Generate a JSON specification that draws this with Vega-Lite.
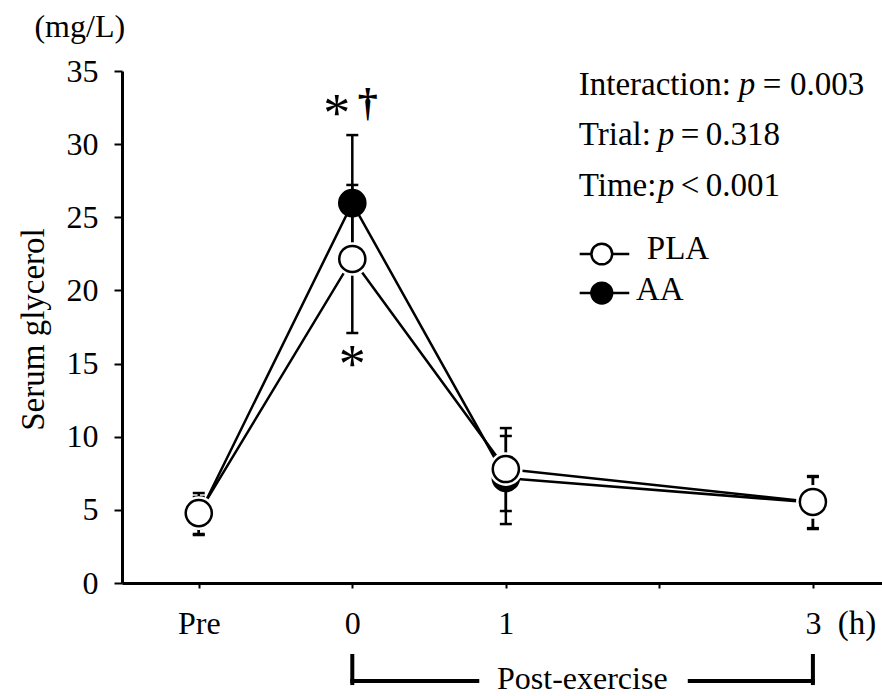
{
  "$schema": "https://vega.github.io/schema/vega-lite/v6.json",
  "width": 760,
  "height": 512,
  "autosize": {"type": "none"},
  "padding": {"left": 122, "top": 71, "right": 0, "bottom": 113},
  "background": "white",
  "config": {
    "font": "Liberation Serif",
    "view": {"stroke": null},
    "text": {"font": "Liberation Serif", "color": "black"}
  },
  "datasets": {
    "series": [
      {"trial": "PLA", "x": -1, "y": 4.78, "lo": 3.28, "hi": 6.15},
      {"trial": "PLA", "x": 0, "y": 22.15, "lo": 17.09, "hi": 27.21},
      {"trial": "PLA", "x": 1, "y": 7.79, "lo": 4.92, "hi": 10.59},
      {"trial": "PLA", "x": 3, "y": 5.54, "lo": 3.69, "hi": 7.31},
      {"trial": "AA", "x": -1, "y": 4.62, "lo": 3.35, "hi": 5.88},
      {"trial": "AA", "x": 0, "y": 25.97, "lo": 21.32, "hi": 30.62},
      {"trial": "AA", "x": 1, "y": 7.18, "lo": 4.03, "hi": 10.05},
      {"trial": "AA", "x": 3, "y": 5.5, "lo": 3.75, "hi": 7.25}
    ],
    "notes": [
      {"group": "left", "x": 1.475, "y": 33.36, "label": "Interaction:"},
      {"group": "italic", "x": 2.517, "y": 33.36, "label": "p"},
      {"group": "left", "x": 2.674, "y": 33.36, "label": "="},
      {"group": "left", "x": 2.85, "y": 33.36, "label": "0.003"},
      {"group": "left", "x": 1.475, "y": 29.94, "label": "Trial:"},
      {"group": "italic", "x": 1.99, "y": 29.94, "label": "p"},
      {"group": "left", "x": 2.14, "y": 29.94, "label": "="},
      {"group": "left", "x": 2.302, "y": 29.94, "label": "0.318"},
      {"group": "left", "x": 1.475, "y": 26.45, "label": "Time:"},
      {"group": "italic", "x": 1.99, "y": 26.45, "label": "p"},
      {"group": "left", "x": 2.14, "y": 26.45, "label": "<"},
      {"group": "left", "x": 2.302, "y": 26.45, "label": "0.001"},
      {"group": "left", "x": 1.918, "y": 22.15, "label": "PLA"},
      {"group": "left", "x": 1.847, "y": 19.34, "label": "AA"},
      {"group": "left", "x": 3.162, "y": -3.49, "label": "(h)"},
      {"group": "center", "x": -1.775, "y": 37.32, "label": "(mg/L)"},
      {"group": "center", "x": 1.498, "y": -7.25, "label": "Post-exercise"},
      {"group": "star", "x": -0.102, "y": 30.93, "label": "*"},
      {"group": "star", "x": 0, "y": 13.77, "label": "*"},
      {"group": "dagger", "x": 0.1, "y": 31.9, "label": "†"}
    ],
    "legend": [
      {"trial": "PLA", "x": 1.481, "x2": 1.804, "xc": 1.625, "y": 22.49},
      {"trial": "AA", "x": 1.481, "x2": 1.804, "xc": 1.625, "y": 19.82}
    ],
    "bracket": [
      {"x": 0, "x2": 0, "y": -4.99, "y2": -6.84},
      {"x": 3, "x2": 3, "y": -4.99, "y2": -6.84},
      {"x": 0, "x2": 0.814, "y": -6.7, "y2": -6.7},
      {"x": 2.198, "x2": 3, "y": -6.7, "y2": -6.7}
    ]
  },
  "layer": [
    {
      "data": {"name": "series"},
      "transform": [{"filter": "datum.trial === 'AA'"}],
      "mark": {"type": "line", "color": "black", "strokeWidth": 2.5},
      "encoding": {
        "x": {
          "field": "x",
          "type": "quantitative",
          "scale": {"domain": [-1.5, 3.45], "nice": false, "zero": false},
          "axis": {
            "values": [-1, 0, 1, 2, 3],
            "format": "d",
            "labelExpr": "datum.value === -1 ? 'Pre' : (datum.value === 2 ? '' : datum.label)",
            "title": null,
            "grid": false,
            "domainColor": "black",
            "domainWidth": 3,
            "tickColor": "black",
            "tickWidth": 2,
            "tickSize": 5,
            "labelFontSize": 32,
            "labelColor": "black",
            "labelPadding": 45,
            "labelBaseline": "alphabetic",
            "labelFlush": false,
            "labelOverlap": false
          }
        },
        "y": {
          "field": "y",
          "type": "quantitative",
          "scale": {"domain": [0, 35], "nice": false, "zero": false},
          "axis": {
            "values": [0, 5, 10, 15, 20, 25, 30, 35],
            "format": "d",
            "title": "Serum glycerol",
            "titleFontSize": 33,
            "titleFontWeight": "normal",
            "titleColor": "black",
            "titleX": -79,
            "titleY": 258,
            "titleAngle": 270,
            "titleAlign": "center",
            "titleBaseline": "alphabetic",
            "grid": false,
            "domainColor": "black",
            "domainWidth": 3,
            "tickColor": "black",
            "tickWidth": 2,
            "tickSize": 8,
            "labelFontSize": 32,
            "labelColor": "black",
            "labelPadding": 16,
            "labelFlush": false,
            "labelOverlap": false
          }
        }
      }
    },
    {
      "data": {"name": "series"},
      "transform": [{"filter": "datum.trial === 'AA'"}],
      "mark": {"type": "rule", "color": "black", "strokeWidth": 2.5},
      "encoding": {
        "x": {"field": "x", "type": "quantitative"},
        "y": {"field": "lo", "type": "quantitative"},
        "y2": {"field": "hi"}
      }
    },
    {
      "data": {"name": "series"},
      "transform": [{"filter": "datum.trial === 'AA'"}],
      "mark": {"type": "tick", "orient": "horizontal", "color": "black", "size": 12, "thickness": 2.5, "opacity": 1},
      "encoding": {
        "x": {"field": "x", "type": "quantitative"},
        "y": {"field": "lo", "type": "quantitative"}
      }
    },
    {
      "data": {"name": "series"},
      "transform": [{"filter": "datum.trial === 'AA'"}],
      "mark": {"type": "tick", "orient": "horizontal", "color": "black", "size": 12, "thickness": 2.5, "opacity": 1},
      "encoding": {
        "x": {"field": "x", "type": "quantitative"},
        "y": {"field": "hi", "type": "quantitative"}
      }
    },
    {
      "data": {"name": "series"},
      "transform": [{"filter": "datum.trial === 'AA'"}],
      "mark": {"type": "point", "shape": "circle", "filled": true, "fill": "black", "stroke": "black", "strokeWidth": 2.5, "size": 683, "opacity": 1},
      "encoding": {
        "x": {"field": "x", "type": "quantitative"},
        "y": {"field": "y", "type": "quantitative"}
      }
    },
    {
      "data": {"name": "series"},
      "transform": [{"filter": "datum.trial === 'PLA'"}],
      "mark": {"type": "line", "color": "black", "strokeWidth": 2.5},
      "encoding": {
        "x": {"field": "x", "type": "quantitative"},
        "y": {"field": "y", "type": "quantitative"}
      }
    },
    {
      "data": {"name": "series"},
      "transform": [{"filter": "datum.trial === 'PLA'"}],
      "mark": {"type": "rule", "color": "black", "strokeWidth": 2.5},
      "encoding": {
        "x": {"field": "x", "type": "quantitative"},
        "y": {"field": "lo", "type": "quantitative"},
        "y2": {"field": "hi"}
      }
    },
    {
      "data": {"name": "series"},
      "transform": [{"filter": "datum.trial === 'PLA'"}],
      "mark": {"type": "tick", "orient": "horizontal", "color": "black", "size": 12, "thickness": 2.5, "opacity": 1},
      "encoding": {
        "x": {"field": "x", "type": "quantitative"},
        "y": {"field": "lo", "type": "quantitative"}
      }
    },
    {
      "data": {"name": "series"},
      "transform": [{"filter": "datum.trial === 'PLA'"}],
      "mark": {"type": "tick", "orient": "horizontal", "color": "black", "size": 12, "thickness": 2.5, "opacity": 1},
      "encoding": {
        "x": {"field": "x", "type": "quantitative"},
        "y": {"field": "hi", "type": "quantitative"}
      }
    },
    {
      "data": {"name": "series"},
      "transform": [{"filter": "datum.trial === 'PLA'"}],
      "mark": {"type": "point", "shape": "circle", "filled": true, "fill": "white", "size": 1134, "opacity": 1},
      "encoding": {
        "x": {"field": "x", "type": "quantitative"},
        "y": {"field": "y", "type": "quantitative"}
      }
    },
    {
      "data": {"name": "series"},
      "transform": [{"filter": "datum.trial === 'PLA'"}],
      "mark": {"type": "point", "shape": "circle", "filled": true, "fill": "white", "stroke": "black", "strokeWidth": 2.5, "size": 683, "opacity": 1},
      "encoding": {
        "x": {"field": "x", "type": "quantitative"},
        "y": {"field": "y", "type": "quantitative"}
      }
    },
    {
      "data": {"name": "legend"},
      "mark": {"type": "rule", "color": "black", "strokeWidth": 2.5},
      "encoding": {
        "x": {"field": "x", "type": "quantitative"},
        "x2": {"field": "x2"},
        "y": {"field": "y", "type": "quantitative"}
      }
    },
    {
      "data": {"name": "legend"},
      "transform": [{"filter": "datum.trial === 'PLA'"}],
      "mark": {"type": "point", "shape": "circle", "filled": true, "fill": "white", "stroke": "black", "strokeWidth": 2.5, "size": 430, "opacity": 1},
      "encoding": {
        "x": {"field": "xc", "type": "quantitative"},
        "y": {"field": "y", "type": "quantitative"}
      }
    },
    {
      "data": {"name": "legend"},
      "transform": [{"filter": "datum.trial === 'AA'"}],
      "mark": {"type": "point", "shape": "circle", "filled": true, "fill": "black", "stroke": "black", "strokeWidth": 2.5, "size": 430, "opacity": 1},
      "encoding": {
        "x": {"field": "xc", "type": "quantitative"},
        "y": {"field": "y", "type": "quantitative"}
      }
    },
    {
      "data": {"name": "bracket"},
      "mark": {"type": "rule", "color": "black", "strokeWidth": 4, "strokeCap": "square"},
      "encoding": {
        "x": {"field": "x", "type": "quantitative"},
        "x2": {"field": "x2"},
        "y": {"field": "y", "type": "quantitative"},
        "y2": {"field": "y2"}
      }
    },
    {
      "data": {"name": "notes"},
      "transform": [{"filter": "datum.group === 'left'"}],
      "mark": {"type": "text", "align": "left", "baseline": "alphabetic", "fontSize": 33, "color": "black"},
      "encoding": {
        "x": {"field": "x", "type": "quantitative"},
        "y": {"field": "y", "type": "quantitative"},
        "text": {"field": "label"}
      }
    },
    {
      "data": {"name": "notes"},
      "transform": [{"filter": "datum.group === 'italic'"}],
      "mark": {"type": "text", "align": "left", "baseline": "alphabetic", "fontSize": 33, "fontStyle": "italic", "color": "black"},
      "encoding": {
        "x": {"field": "x", "type": "quantitative"},
        "y": {"field": "y", "type": "quantitative"},
        "text": {"field": "label"}
      }
    },
    {
      "data": {"name": "notes"},
      "transform": [{"filter": "datum.group === 'center'"}],
      "mark": {"type": "text", "align": "center", "baseline": "alphabetic", "fontSize": 32, "color": "black"},
      "encoding": {
        "x": {"field": "x", "type": "quantitative"},
        "y": {"field": "y", "type": "quantitative"},
        "text": {"field": "label"}
      }
    },
    {
      "data": {"name": "notes"},
      "transform": [{"filter": "datum.group === 'star'"}],
      "mark": {"type": "text", "align": "center", "baseline": "alphabetic", "fontSize": 54, "color": "black"},
      "encoding": {
        "x": {"field": "x", "type": "quantitative"},
        "y": {"field": "y", "type": "quantitative"},
        "text": {"field": "label"}
      }
    },
    {
      "data": {"name": "notes"},
      "transform": [{"filter": "datum.group === 'dagger'"}],
      "mark": {"type": "text", "align": "center", "baseline": "alphabetic", "fontSize": 40, "fontWeight": "bold", "color": "black"},
      "encoding": {
        "x": {"field": "x", "type": "quantitative"},
        "y": {"field": "y", "type": "quantitative"},
        "text": {"field": "label"}
      }
    }
  ]
}
